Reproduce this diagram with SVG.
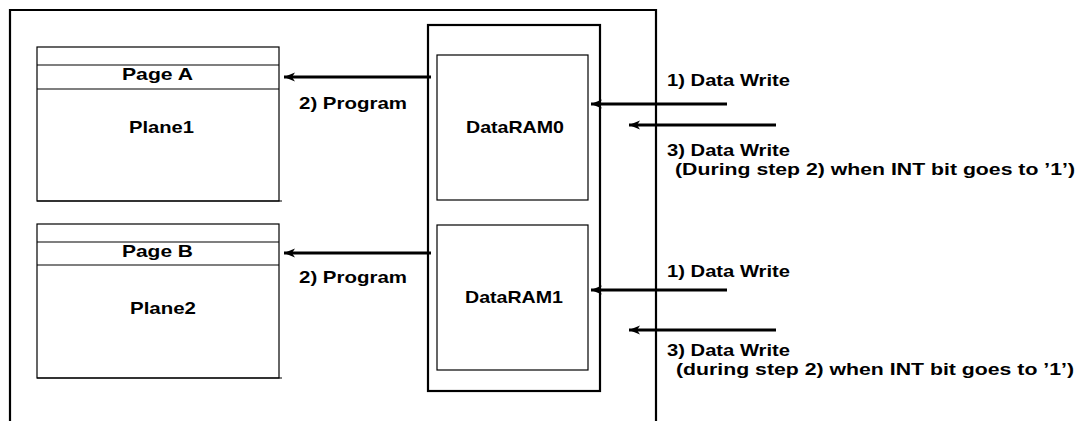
<svg xmlns="http://www.w3.org/2000/svg" width="1081" height="421" viewBox="0 0 1081 421">
<style>
  .t { font-family: "Liberation Sans", Arial, sans-serif; font-weight: bold; font-size: 17px; fill: #000; }
  .thick { fill: none; stroke: #000; stroke-width: 2.2; }
  .thin { fill: #fff; stroke: #000; stroke-width: 1.2; }
  .ln { stroke: #000; stroke-width: 1.2; }
  .arr { fill: none; stroke: #000; stroke-width: 2.8; marker-end: url(#ah); }
</style>
<defs>
  <marker id="ah" markerUnits="userSpaceOnUse" markerWidth="13" markerHeight="11" refX="11" refY="5.5" orient="auto">
    <path d="M0,1 L11,5.5 L0,10 L3,5.5 Z" fill="#000"/>
  </marker>
</defs>
<rect width="1081" height="421" fill="#fff"/>

<g id="frame">
  <path class="thick" d="M10,421 V10 H656 V421"/>
</g>

<g id="plane1">
  <rect class="thin" x="37" y="47" width="242" height="154"/>
  <line class="ln" x1="37" y1="65" x2="279" y2="65"/>
  <line class="ln" x1="37" y1="89" x2="279" y2="89"/>
  <line class="ln" x1="37" y1="201" x2="282" y2="201"/>
  <text class="t" x="122" y="80" textLength="71" lengthAdjust="spacingAndGlyphs">Page A</text>
  <text class="t" x="129" y="133" textLength="65" lengthAdjust="spacingAndGlyphs">Plane1</text>
</g>

<g id="plane2">
  <rect class="thin" x="37" y="224" width="242" height="154"/>
  <line class="ln" x1="37" y1="242" x2="279" y2="242"/>
  <line class="ln" x1="37" y1="265" x2="279" y2="265"/>
  <line class="ln" x1="37" y1="378" x2="282" y2="378"/>
  <text class="t" x="122" y="257" textLength="71" lengthAdjust="spacingAndGlyphs">Page B</text>
  <text class="t" x="130" y="314" textLength="66" lengthAdjust="spacingAndGlyphs">Plane2</text>
</g>

<g id="ram">
  <rect class="thick" x="428" y="25" width="172" height="366"/>
</g>

<g id="dataram0">
  <rect class="thin" x="437" y="55" width="151" height="145"/>
  <text class="t" x="466" y="133" textLength="98" lengthAdjust="spacingAndGlyphs">DataRAM0</text>
</g>

<g id="dataram1">
  <rect class="thin" x="437" y="225" width="151" height="145"/>
  <text class="t" x="465" y="303" textLength="98" lengthAdjust="spacingAndGlyphs">DataRAM1</text>
</g>

<g id="connectors">
  <line class="arr" x1="431" y1="77" x2="284" y2="77"/>
  <line class="arr" x1="431" y1="253" x2="284" y2="253"/>
  <line class="arr" x1="727" y1="104" x2="591" y2="104"/>
  <line class="arr" x1="776" y1="125" x2="629" y2="125"/>
  <line class="arr" x1="727" y1="290" x2="591" y2="290"/>
  <line class="arr" x1="776" y1="330" x2="629" y2="330"/>
</g>

<g id="labels">
  <text class="t" x="299" y="109" textLength="108" lengthAdjust="spacingAndGlyphs">2) Program</text>
  <text class="t" x="299" y="283" textLength="108" lengthAdjust="spacingAndGlyphs">2) Program</text>
  <text class="t" x="667" y="86" textLength="123" lengthAdjust="spacingAndGlyphs">1) Data Write</text>
  <text class="t" x="667" y="156" textLength="123" lengthAdjust="spacingAndGlyphs">3) Data Write</text>
  <text class="t" x="675" y="175" textLength="400" lengthAdjust="spacingAndGlyphs">(During step 2) when INT bit goes to ’1’)</text>
  <text class="t" x="667" y="277" textLength="123" lengthAdjust="spacingAndGlyphs">1) Data Write</text>
  <text class="t" x="667" y="356" textLength="123" lengthAdjust="spacingAndGlyphs">3) Data Write</text>
  <text class="t" x="676" y="375" textLength="398" lengthAdjust="spacingAndGlyphs">(during step 2) when INT bit goes to ’1’)</text>
</g>
</svg>
